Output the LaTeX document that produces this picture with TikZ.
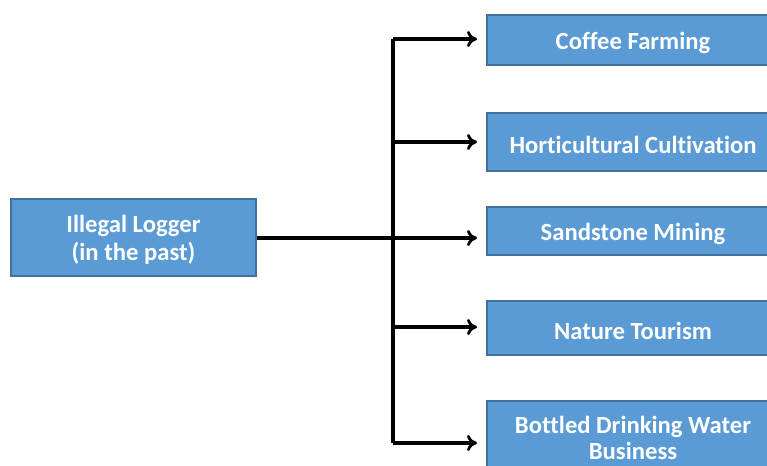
\documentclass[tikz,border=0pt]{standalone}
\usepackage{fontspec}
\setmainfont{Carlito}[Ligatures=NoCommon]
\usetikzlibrary{arrows.meta}
\definecolor{boxfill}{HTML}{5B9BD5}
\definecolor{boxline}{HTML}{41719C}
\newcommand{\lowr}[1]{\raisebox{-2pt}[\height][\depth]{#1}}
\begin{document}
\begin{tikzpicture}[x=0.75pt,y=-0.75pt,
  box/.style={draw=boxline,line width=0.8pt,fill=boxfill,text=white,font=\fontsize{18.5}{19.5}\selectfont\bfseries,align=center,inner sep=0pt},
  conn/.style={line width=2.3pt,black},
  arr/.style={conn,-{To[length=7.5pt,width=12pt,line width=2.1pt]}}]
\useasboundingbox (0,0) rectangle (767,466);
\clip (0,0) rectangle (767,466);
\node[box,minimum width=245*0.75pt,minimum height=77*0.75pt] (src) at (133.5,237.5) {\lowr{\shortstack{Illegal Logger\\[1pt](in the past)}}};
\node[box,minimum width=292*0.75pt,minimum height=50*0.75pt] (b1) at (633,40) {\lowr{Coffee Farming}};
\node[box,minimum width=292*0.75pt,minimum height=58*0.75pt] (b2) at (633,142) {\lowr{Horticultural Cultivation}};
\node[box,minimum width=292*0.75pt,minimum height=48*0.75pt] (b3) at (633,231) {\lowr{Sandstone Mining}};
\node[box,minimum width=292*0.75pt,minimum height=54*0.75pt] (b4) at (633,328) {\lowr{Nature Tourism}};
\node[box,minimum width=292*0.75pt,minimum height=73*0.75pt] (b5) at (633,437.5) {Bottled Drinking Water\\Business};
\coordinate (top) at (393,39);
\coordinate (bot) at (393,443);
\draw[conn] (top) -- (bot);
\draw[arr] (top) -- (477,39);
\draw[arr] (393,142) -- (477,142);
\draw[arr] (src.east |- 0,238) -- (477,238);
\draw[arr] (393,327) -- (477,327);
\draw[arr] (bot) -- (477,443);
\end{tikzpicture}
\end{document}
